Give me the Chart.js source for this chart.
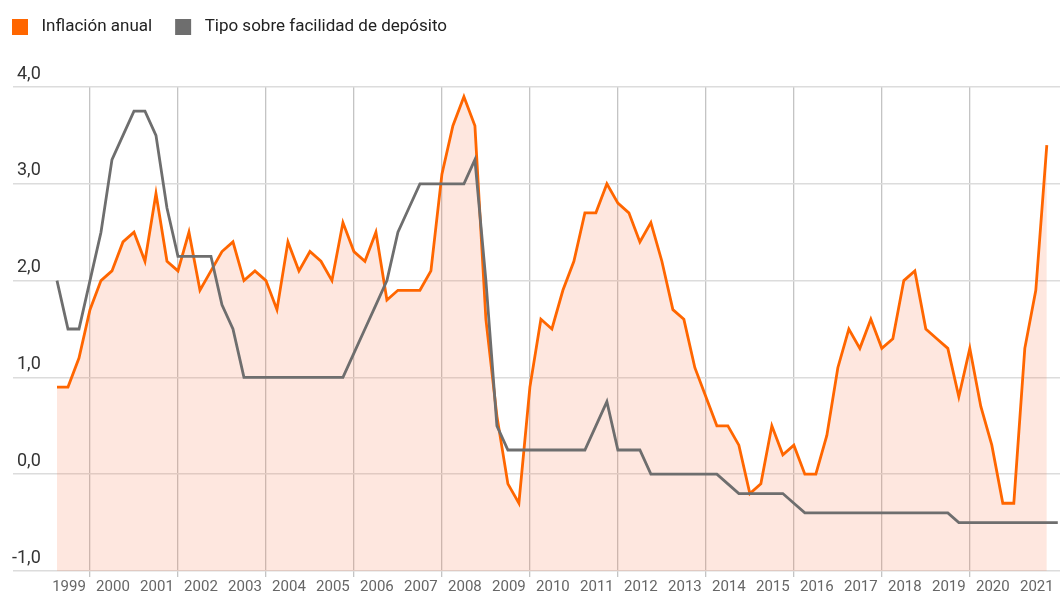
<!DOCTYPE html>
<html><head><meta charset="utf-8">
<script src="https://cdn.jsdelivr.net/npm/chart.js@4"></script>
<style>html,body{margin:0;padding:0;background:#fff}#wrap{width:1060px;height:594px;position:relative}</style>
</head><body><div id="wrap"><canvas id="c"></canvas></div>
<script>
const years = [1999,2000,2001,2002,2003,2004,2005,2006,2007,2008,2009,2010,2011,2012,2013,2014,2015,2016,2017,2018,2019,2020,2021];
const seriesNames = ['Inflación anual', 'Tipo sobre facilidad de depósito'];
// quarterly values (end of quarter), 1999 T1 ... 2021 T3
const inflation = [
  0.9,0.9,1.2,1.7,
  2.0,2.1,2.4,2.5,
  2.2,2.9,2.2,2.1,
  2.5,1.9,2.1,2.3,
  2.4,2.0,2.1,2.0,
  1.7,2.4,2.1,2.3,
  2.2,2.0,2.6,2.3,
  2.2,2.5,1.8,1.9,
  1.9,1.9,2.1,3.1,
  3.6,3.9,3.6,1.6,
  0.6,-0.1,-0.3,0.9,
  1.6,1.5,1.9,2.2,
  2.7,2.7,3.0,2.8,
  2.7,2.4,2.6,2.2,
  1.7,1.6,1.1,0.8,
  0.5,0.5,0.3,-0.2,
  -0.1,0.5,0.2,0.3,
  0.0,0.0,0.4,1.1,
  1.5,1.3,1.6,1.3,
  1.4,2.0,2.1,1.5,
  1.4,1.3,0.8,1.3,
  0.7,0.3,-0.3,-0.3,
  1.3,1.9,3.4
];
// 1999 T1 ... 2021 T4
const depositRate = [
  2.0,1.5,1.5,2.0,
  2.5,3.25,3.5,3.75,
  3.75,3.5,2.75,2.25,
  2.25,2.25,2.25,1.75,
  1.5,1.0,1.0,1.0,
  1.0,1.0,1.0,1.0,
  1.0,1.0,1.0,1.25,
  1.5,1.75,2.0,2.5,
  2.75,3.0,3.0,3.0,
  3.0,3.0,3.25,2.0,
  0.5,0.25,0.25,0.25,
  0.25,0.25,0.25,0.25,
  0.25,0.5,0.75,0.25,
  0.25,0.25,0.0,0.0,
  0.0,0.0,0.0,0.0,
  0.0,-0.1,-0.2,-0.2,
  -0.2,-0.2,-0.2,-0.3,
  -0.4,-0.4,-0.4,-0.4,
  -0.4,-0.4,-0.4,-0.4,
  -0.4,-0.4,-0.4,-0.4,
  -0.4,-0.4,-0.5,-0.5,
  -0.5,-0.5,-0.5,-0.5,
  -0.5,-0.5,-0.5,-0.5
];
const yTicks = [-1, 0, 1, 2, 3, 4];

// time position of each quarter (end of quarter, in years)
const periods = [];
years.forEach(y => { for (let q = 1; q <= 4; q++) periods.push(y + q / 4); });

const ORANGE = '#ff6600';
const GRAY = '#6e6e6e';

const legendGap = {
  id: 'legendGap',
  beforeInit(chart) {
    const lg = chart.legend;
    if (!lg) return;
    const f = lg.fit;
    lg.fit = function () { f.call(this); this.height += 37; };
  }
};

new Chart(document.getElementById('c'), {
  type: 'line',
  data: {
    datasets: [
      {
        label: seriesNames[0],
        data: inflation.map((v, i) => ({ x: periods[i], y: v })),
        borderColor: ORANGE,
        backgroundColor: 'rgba(248,120,80,0.18)',
        borderWidth: 2.8,
        fill: 'start',
        pointRadius: 0,
        tension: 0,
        order: 1
      },
      {
        label: seriesNames[1],
        data: depositRate.map((v, i) => ({ x: periods[i], y: v })),
        borderColor: GRAY,
        backgroundColor: GRAY,
        borderWidth: 2.8,
        fill: false,
        pointRadius: 0,
        tension: 0,
        order: 0
      }
    ]
  },
  options: {
    responsive: true,
    maintainAspectRatio: false,
    devicePixelRatio: 1,
    animation: false,
    layout: { padding: { left: -11, top: -4, right: 0, bottom: 0 } },
    plugins: {
      legend: {
        position: 'top',
        align: 'start',
        labels: {
          boxWidth: 26,
          boxHeight: 26,
          padding: 18,
          color: '#222',
          font: { family: 'Roboto', size: 17 },
          generateLabels(chart) {
            const cols = [ORANGE, GRAY];
            return chart.data.datasets.map((ds, i) => ({
              text: ds.label,
              fillStyle: cols[i],
              strokeStyle: '#ffffff',
              lineWidth: 10,
              hidden: false,
              datasetIndex: i,
              fontColor: '#222'
            }));
          }
        }
      },
      tooltip: { enabled: false }
    },
    scales: {
      x: {
        type: 'linear',
        min: 1998.25,
        max: 2022.05,
        afterBuildTicks(s) { s.ticks = years.map(v => ({ value: v })); },
        afterFit(s) { s.paddingLeft = 0; s.paddingRight = 0; s.height = 23; },
        ticks: {
          autoSkip: false,
          maxRotation: 0,
          labelOffset: 23,
          padding: 1,
          color: '#666',
          font: { family: 'Roboto', size: 15 },
          callback: v => String(v)
        },
        grid: {
          color: c => (c.tick && c.tick.value % 2 === 0) ? '#c4c4c4' : 'rgba(0,0,0,0)',
          lineWidth: 1.3,
          tickLength: 6
        },
        border: { display: false }
      },
      y: {
        min: -1,
        max: 4,
        afterBuildTicks(s) { s.ticks = yTicks.map(v => ({ value: v })); },
        afterFit(s) { s.width = 24; s.paddingTop = 0; s.paddingBottom = 0; },
        ticks: {
          mirror: true,
          crossAlign: 'far',
          padding: -1,
          labelOffset: -13,
          color: '#333',
          font: { family: 'Roboto', size: 18 },
          callback: v => Number(v).toFixed(1).replace('.', ',')
        },
        grid: { color: '#dcdcdc', lineWidth: 1.5, drawTicks: false },
        border: { display: false }
      }
    }
  },
  plugins: [legendGap]
});
</script>
</body></html>
